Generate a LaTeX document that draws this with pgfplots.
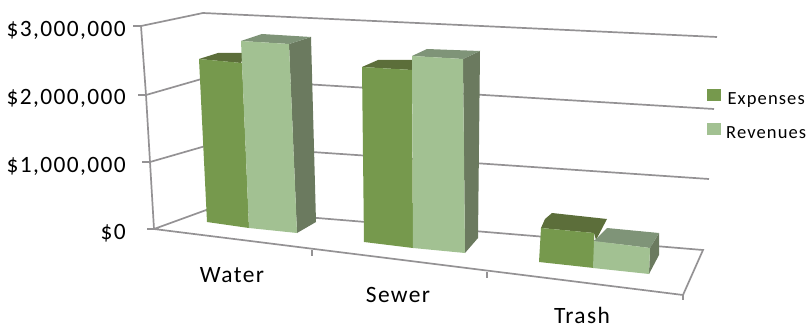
\documentclass[border=0pt]{standalone}
\usepackage{fontspec}
\setmainfont[LetterSpace=6]{Carlito}
\usepackage{pgfplots}
\pgfplotsset{compat=1.18}
\definecolor{expfront}{HTML}{76994D}
\definecolor{exptop}{HTML}{5C6E3A}
\definecolor{revfront}{HTML}{A2C192}
\definecolor{revtop}{HTML}{7F9478}
\definecolor{revside}{HTML}{6B7A5F}
\definecolor{gridgray}{HTML}{949294}
\begin{document}
\begin{tikzpicture}
\path[use as bounding box] (0,0) rectangle (810bp,329bp);
\begin{axis}[
    at={(0,0)}, anchor=south west,
    scale only axis, width=810bp, height=329bp,
    xmin=0, xmax=810, ymin=0, ymax=329, y dir=reverse,
    hide axis, clip=false,
    legend style={at={(axis cs:707,89)}, anchor=north west, draw=none, fill=none,
        font=\fontsize{18.6}{20}\selectfont, row sep=15bp, inner sep=0pt,
        /tikz/every odd column/.style={column sep=3bp}},
    legend image code/.code={\fill[#1] (0bp,-2bp) rectangle (14bp,10bp);},
    every axis plot/.append style={forget plot},
    grid line/.style={draw=gridgray, line width=1.7bp},
    face/.style={fill=#1, draw=none},
]
% walls and floor
\addplot[grid line] coordinates {(133,26) (141,26) (203,13) (717,37)};
\addplot[grid line] coordinates {(138,95) (146,95) (205,78) (714,109)};
\addplot[grid line] coordinates {(142,162) (150,162) (209,145) (709,179)};
\addplot[grid line] coordinates {(147,229) (154,229) (209,209) (703,250) (683,295) (154,229)};
\addplot[grid line] coordinates {(141,26) (146,95) (150,162) (154,229)};
\addplot[grid line] coordinates {(312,250) (312,256)};
\addplot[grid line] coordinates {(487,272) (487,278)};
\addplot[grid line] coordinates {(683,295) (683,300)};
% water
\addplot[face=exptop] coordinates {(199,59) (218,53) (245,53) (241,63)} --cycle;
\addplot[face=expfront, forget plot=false] coordinates {(199,59) (242,63) (249,228) (207,222)} --cycle;
\addlegendentry{Expenses}
\addplot[face=revside] coordinates {(289,44) (311,37) (316,222) (297,233)} --cycle;
\addplot[face=revtop] coordinates {(241,41) (262,34) (311,37) (289,44)} --cycle;
\addplot[face=revfront, forget plot=false] coordinates {(241,41) (289,44) (297,233) (249,228)} --cycle;
\addlegendentry{Revenues}
% sewer
\addplot[face=exptop] coordinates {(362,67) (378,60) (414,60) (412,70)} --cycle;
\addplot[face=expfront] coordinates {(362,67) (412,70) (413,248) (364,242)} --cycle;
\addplot[face=revside] coordinates {(463,59) (480,51) (478,238) (465,253)} --cycle;
\addplot[face=revtop] coordinates {(412,56) (427,49) (480,51) (463,59)} --cycle;
\addplot[face=revfront] coordinates {(412,56) (463,59) (465,253) (413,248)} --cycle;
% trash
\addplot[face=exptop] coordinates {(541,228) (545,219) (552,213) (607,219) (596,240) (594,233)} --cycle;
\addplot[face=expfront] coordinates {(541,228) (594,233) (594,268) (539,262)} --cycle;
\addplot[face=revside] coordinates {(650,248) (659,233) (659,255) (649,274)} --cycle;
\addplot[face=revtop] coordinates {(594,241) (607,228) (659,233) (650,248)} --cycle;
\addplot[face=revfront] coordinates {(594,241) (650,248) (649,274) (593,268)} --cycle;
% labels
\begin{scope}[every node/.style={font=\fontsize{23.5}{25}\selectfont, inner sep=0pt, text=black}]
\node[anchor=base east] at (axis cs:126,37) {\$3,000,000};
\node[anchor=base east] at (axis cs:126,104) {\$2,000,000};
\node[anchor=base east] at (axis cs:126,172) {\$1,000,000};
\node[anchor=base east] at (axis cs:126,239) {\$0};
\node[anchor=base] at (axis cs:232,282) {Water};
\node[anchor=base] at (axis cs:398,302) {Sewer};
\node[anchor=base] at (axis cs:582,323) {Trash};
\end{scope}
\end{axis}
\end{tikzpicture}
\end{document}
